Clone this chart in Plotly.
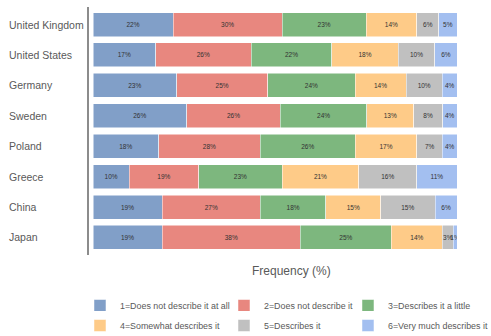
import plotly.graph_objects as go

countries = ["United Kingdom", "United States", "Germany", "Sweden", "Poland", "Greece", "China", "Japan"]
series_names = ["1=Does not describe it at all", "2=Does not describe it", "3=Describes it a little",
                "4=Somewhat describes it", "5=Describes it", "6=Very much describes it"]
s1 = [22, 17, 23, 26, 18, 10, 19, 19]
s2 = [30, 26, 25, 26, 28, 19, 27, 38]
s3 = [23, 22, 24, 24, 26, 23, 18, 25]
s4 = [14, 18, 14, 13, 17, 21, 15, 14]
s5 = [6, 10, 10, 8, 7, 16, 15, 3]
s6 = [5, 6, 4, 4, 4, 11, 6, 1]
colors = ["#819FC8", "#E8877F", "#7DB77E", "#FECB88", "#C0C0C0", "#A3BFF0"]

legend_of = ["legend", "legend", "legend", "legend2", "legend2", "legend2"]
legend_w = [99, 79, 110, 99, 79, 110]

fig = go.Figure()
for name, vals, col, lg, lw in zip(series_names, [s1, s2, s3, s4, s5, s6], colors, legend_of, legend_w):
    fig.add_trace(go.Bar(
        y=countries, x=vals, name=name, orientation="h",
        marker=dict(color=col, line=dict(color="white", width=0.5)),
        text=[f"{v}%" for v in vals], textposition="inside", insidetextanchor="middle",
        textangle=0,
        textfont=dict(size=6.5, color="#333333", family="Liberation Sans, Arial"),
        hoverinfo="skip", legend=lg, legendwidth=lw,
    ))

for c in countries:
    fig.add_annotation(x=-0.222, xref="paper", y=c, yref="y", text=c, showarrow=False,
                       xanchor="left", yanchor="middle",
                       font=dict(size=10.5, color="#595959", family="Liberation Sans, Arial"))

fig.add_annotation(x=0.549, xref="paper", y=-0.0645, yref="paper", text="Frequency (%)",
                   showarrow=False, xanchor="center", yanchor="middle",
                   font=dict(size=12, color="#595959", family="Liberation Sans, Arial"))

legend_font = dict(size=8.9, color="#595959", family="Liberation Sans, Arial")
fig.update_layout(
    width=491, height=336,
    margin=dict(l=89, r=34, t=7, b=81, autoexpand=False),
    barmode="stack", barnorm="percent", bargap=0.21,
    plot_bgcolor="white", paper_bgcolor="white",
    uniformtext=dict(minsize=6.5, mode="show"),
    font=dict(family="Liberation Sans, Arial", color="#595959"),
    xaxis=dict(range=[-1.1, 100], showgrid=False, zeroline=False, showticklabels=False, showline=False, fixedrange=True),
    yaxis=dict(autorange=False, range=[7.576, -0.576], showgrid=False, zeroline=False, showticklabels=False,
               showline=True, linecolor="#8c8c8c", linewidth=2, ticks=""),
    legend=dict(orientation="h", xref="paper", yref="paper", x=-0.0245, y=-0.1452,
                xanchor="left", yanchor="top", traceorder="normal", font=legend_font),
    legend2=dict(orientation="h", xref="paper", yref="paper", x=-0.0245, y=-0.2258,
                 xanchor="left", yanchor="top", traceorder="normal", font=legend_font),
)

fig.write_html("out.html")
